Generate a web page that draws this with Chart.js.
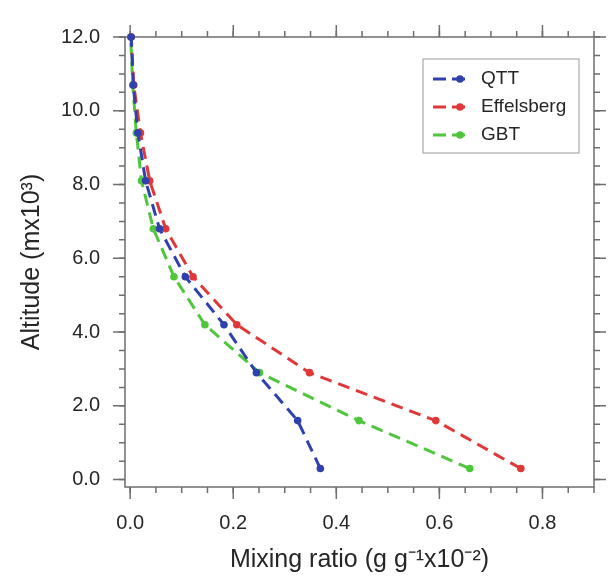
<!DOCTYPE html>
<html>
<head>
<meta charset="utf-8">
<script src="https://cdn.jsdelivr.net/npm/chart.js@4/dist/chart.umd.min.js"></script>
<style>
    html, body { margin: 0; padding: 0; background: #fff; }
    #grafica { display: block; }
</style>
</head>
<body>
<canvas id="grafica" width="611" height="579"></canvas>
<script>
// altitud en km (mx10^3), razon de mezcla en g/g x10^-2
var altitud = [0.3, 1.6, 2.9, 4.2, 5.5, 6.8, 8.1, 9.4, 10.7, 12.0];
var qtt = [0.369, 0.325, 0.245, 0.182, 0.107, 0.057, 0.030, 0.015, 0.006, 0.002];
var effelsberg = [0.758, 0.593, 0.348, 0.207, 0.122, 0.069, 0.038, 0.020, 0.007, 0.002];
var gbt = [0.659, 0.444, 0.251, 0.145, 0.085, 0.045, 0.022, 0.012, 0.005, 0.001];

var etiquetas = ['QTT', 'Effelsberg', 'GBT'];
var colores = ['#2f41ad', '#de3838', '#4fc63c'];

var xTicks = [0.0, 0.2, 0.4, 0.6, 0.8];
var yTicks = [0.0, 2.0, 4.0, 6.0, 8.0, 10.0, 12.0];
var xMenor = 0.05;
var yMenor = 0.5;

var fuente = "'Liberation Sans', Arial, Helvetica, sans-serif";
var texto = '#262626';

function serie(valores) {
    return altitud.map(function (a, i) { return { x: valores[i], y: a }; });
}

var datasets = [qtt, effelsberg, gbt].map(function (valores, i) {
    return {
        label: etiquetas[i],
        data: serie(valores),
        showLine: true,
        borderColor: colores[i],
        backgroundColor: colores[i],
        borderWidth: 3,
        borderDash: [12, 7],
        pointRadius: 3.8,
        pointBorderWidth: 0,
        pointBackgroundColor: colores[i],
        clip: 8
    };
});

// marco con marcas mayores y menores hacia afuera en los cuatro lados
var marco = {
    id: 'marco',
    beforeDatasetsDraw: function (chart) {
        var ctx = chart.ctx, a = chart.chartArea;
        var sx = chart.scales.x, sy = chart.scales.y;
        ctx.save();
        ctx.strokeStyle = '#6e6e6e';
        ctx.lineWidth = 1.5;
        ctx.strokeRect(a.left, a.top, a.right - a.left, a.bottom - a.top);
        function marcaX(v, largo) {
            var px = sx.getPixelForValue(v);
            ctx.beginPath();
            ctx.moveTo(px, a.bottom); ctx.lineTo(px, a.bottom + largo);
            ctx.moveTo(px, a.top); ctx.lineTo(px, a.top - largo);
            ctx.stroke();
        }
        function marcaY(v, largo) {
            var py = sy.getPixelForValue(v);
            ctx.beginPath();
            ctx.moveTo(a.left, py); ctx.lineTo(a.left - largo, py);
            ctx.moveTo(a.right, py); ctx.lineTo(a.right + largo, py);
            ctx.stroke();
        }
        var v;
        for (v = 0; v <= sx.max + 1e-9; v += xMenor) marcaX(v, 6);
        for (v = 0; v <= sy.max + 1e-9; v += yMenor) marcaY(v, 6);
        xTicks.forEach(function (t) { marcaX(t, 12); });
        yTicks.forEach(function (t) { marcaY(t, 12); });
        ctx.restore();
    }
};

// leyenda dentro del area de trazado, arriba a la derecha
var leyenda = {
    id: 'leyenda',
    afterDraw: function (chart) {
        var ctx = chart.ctx, a = chart.chartArea;
        var caja = { x: a.right - 171, y: a.top + 22, w: 156, h: 94 };
        ctx.save();
        ctx.strokeStyle = '#9a9a9a';
        ctx.lineWidth = 1;
        ctx.strokeRect(caja.x, caja.y, caja.w, caja.h);
        ctx.font = '19px ' + fuente;
        ctx.textBaseline = 'middle';
        chart.data.datasets.forEach(function (ds, i) {
            var fy = caja.y + 20 + i * 28;
            ctx.strokeStyle = ds.borderColor;
            ctx.lineWidth = 3;
            ctx.setLineDash([13, 6]);
            ctx.beginPath();
            ctx.moveTo(caja.x + 10, fy);
            ctx.lineTo(caja.x + 48, fy);
            ctx.stroke();
            ctx.setLineDash([]);
            ctx.fillStyle = ds.borderColor;
            ctx.beginPath();
            ctx.arc(caja.x + 37, fy, 3.8, 0, Math.PI * 2);
            ctx.fill();
            ctx.fillStyle = texto;
            ctx.fillText(ds.label, caja.x + 58, fy);
        });
        ctx.restore();
    }
};

var ctx = document.getElementById('grafica').getContext('2d');
new Chart(ctx, {
    type: 'scatter',
    data: { datasets: datasets },
    plugins: [marco, leyenda],
    options: {
        responsive: false,
        animation: false,
        layout: { padding: { top: 19, right: 17, left: 0, bottom: 0 } },
        plugins: {
            legend: { display: false },
            tooltip: { enabled: false }
        },
        scales: {
            x: {
                type: 'linear',
                min: -0.01,
                max: 0.9,
                afterBuildTicks: function (s) { s.ticks = xTicks.map(function (v) { return { value: v }; }); },
                afterFit: function (s) { s.height = 92; },
                grid: { display: false, drawTicks: false },
                border: { display: false },
                ticks: {
                    padding: 24,
                    color: texto,
                    font: { size: 20, family: fuente },
                    maxRotation: 0,
                    callback: function (v) { return Number(v).toFixed(1); }
                },
                title: {
                    display: true,
                    text: 'Mixing ratio (g g\u207B\u00B9x10\u207B\u00B2)',
                    color: texto,
                    font: { size: 25, family: fuente },
                    padding: { top: 0, bottom: 4 }
                }
            },
            y: {
                type: 'linear',
                min: -0.2,
                max: 12.0,
                afterBuildTicks: function (s) { s.ticks = yTicks.map(function (v) { return { value: v }; }); },
                afterFit: function (s) { s.width = 125; },
                grid: { display: false, drawTicks: false },
                border: { display: false },
                ticks: {
                    padding: 25,
                    color: texto,
                    font: { size: 20, family: fuente },
                    callback: function (v) { return Number(v).toFixed(1); }
                },
                title: {
                    display: true,
                    text: 'Altitude (mx10\u00B3)',
                    color: texto,
                    font: { size: 25, family: fuente },
                    padding: { top: 17, bottom: 0 }
                }
            }
        }
    }
});
</script>
</body>
</html>
